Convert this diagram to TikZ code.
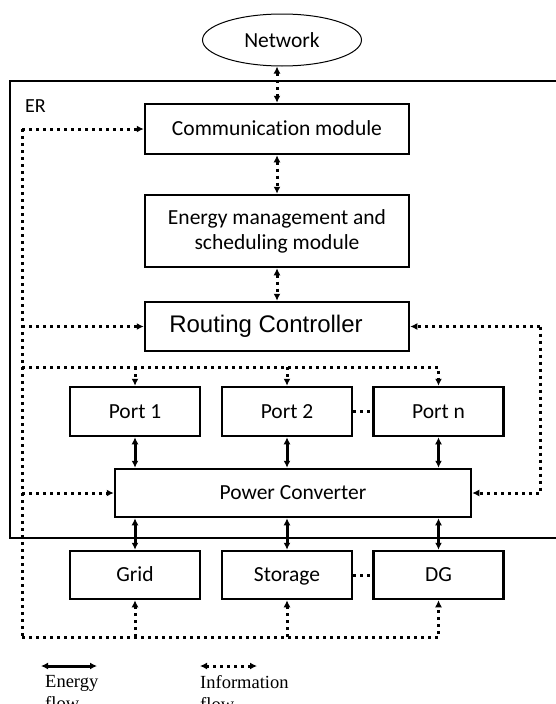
\documentclass[tikz,border=0pt]{standalone}
\usepackage{fontspec}
\setmainfont{Carlito}[Ligatures=NoCommon]
\newfontfamily\rcfont{Liberation Sans}
\newfontfamily\legfont{Liberation Serif}
\usetikzlibrary{arrows.meta,shapes.geometric}

\begin{document}
\begin{tikzpicture}[x=1pt,y=-1pt,>={Latex[length=7pt,width=7pt]},
 box/.style={draw,line width=2.5pt,minimum height=49pt,inner sep=0pt,font=\fontsize{21.5}{25}\selectfont},
 linebox/.style={box,text height=16pt,text depth=2.2pt},
 info/.style={line width=3pt,dash pattern=on 3pt off 4pt},
 energy/.style={line width=3pt},
 legtext/.style={anchor=north west,inner sep=0pt,align=left,font=\legfont\fontsize{18.5}{22}\selectfont}]
 \useasboundingbox (0,0) rectangle (556,704);
 \draw[line width=1.8pt] (10,81) rectangle (560,538);
 \node[anchor=west,inner sep=0pt,font=\fontsize{20}{24}\selectfont] (er) at (25,106) {ER};

 \node[draw,ellipse,line width=1pt,minimum width=159pt,minimum height=52pt,font=\fontsize{21.5}{25}\selectfont] (net) at (282,40) {Network};
 \node[linebox,minimum width=264pt,minimum height=50pt] (comm) at (277,129) {Communication module};
 \node[box,minimum width=264pt,minimum height=72pt,align=center] (ems) at (277,231) {Energy management and\\scheduling module};
 \node[box,minimum width=264pt,font=\rcfont\fontsize{24}{28}\selectfont] (rc) at (277,326.5) {Routing Controller\hspace*{22pt}};
 \foreach \name/\txt/\x in {p1/Port 1/135,p2/Port 2/287,pn/Port n/438.5}
  \node[linebox,minimum width=130pt] (\name) at (\x,411.5) {\txt};
 \node[linebox,minimum width=356pt,minimum height=48pt] (pc) at (293,493) {Power Converter};
 \foreach \name/\txt/\x in {grid/Grid/135,stor/Storage/287,dg/DG/438.5}
  \node[linebox,minimum width=130pt,minimum height=48pt] (\name) at (\x,575) {\txt};

 % information flow
 \draw[info,<->] (net.south -| comm.north) -- (comm.north);
 \draw[info,<->] (comm) -- (ems);
 \draw[info,<->] (ems) -- (rc);
 \coordinate (lt) at (22,129);
 \coordinate (lb) at (22,637);
 \coordinate (pbus) at (22,367);
 \coordinate (rt) at (540,326.5);
 \draw[info] (lt) -- (lb);
 \draw[info,->] (lt) -- (comm.west);
 \draw[info,->] (lt |- rc.west) -- (rc.west);
 \draw[info,->] (lt |- pc.west) -- (pc.west);
 \draw[info,->] (pbus) -- (pbus -| pn.north) -- (pn.north);
 \draw[info,->] (pbus -| p1.north) -- (p1.north);
 \draw[info,->] (pbus -| p2.north) -- (p2.north);
 \draw[info,->] (lb) -- (lb -| dg.south) -- (dg.south);
 \draw[info,->] (lb -| grid.south) -- (grid.south);
 \draw[info,->] (lb -| stor.south) -- (stor.south);
 \draw[info,->] (rt) -- (rc.east);
 \draw[info,->] (rt) -- (rt |- pc.east) -- (pc.east);
 \draw[info] (p2.east) -- (pn.west);
 \draw[info] (stor.east) -- (dg.west);

 % energy flow
 \foreach \a/\b in {p1/grid,p2/stor,pn/dg}{
  \draw[energy,<->] (\a.south) -- (\a.south |- pc.north);
  \draw[energy,<->] (\a.south |- pc.south) -- (\b.north);
 }

 % legend
 \coordinate (e1) at (41,666);
 \coordinate (e2) at (97,666);
 \coordinate (i1) at (200,666);
 \coordinate (i2) at (257,666);
 \draw[energy,<->] (e1) -- (e2);
 \draw[info,<->] (i1) -- (i2);
 \node[legtext] (elab) at (45,675) {Energy\\flow};
 \node[legtext] (ilab) at (200,675) {Information\\flow};
\end{tikzpicture}
\end{document}
